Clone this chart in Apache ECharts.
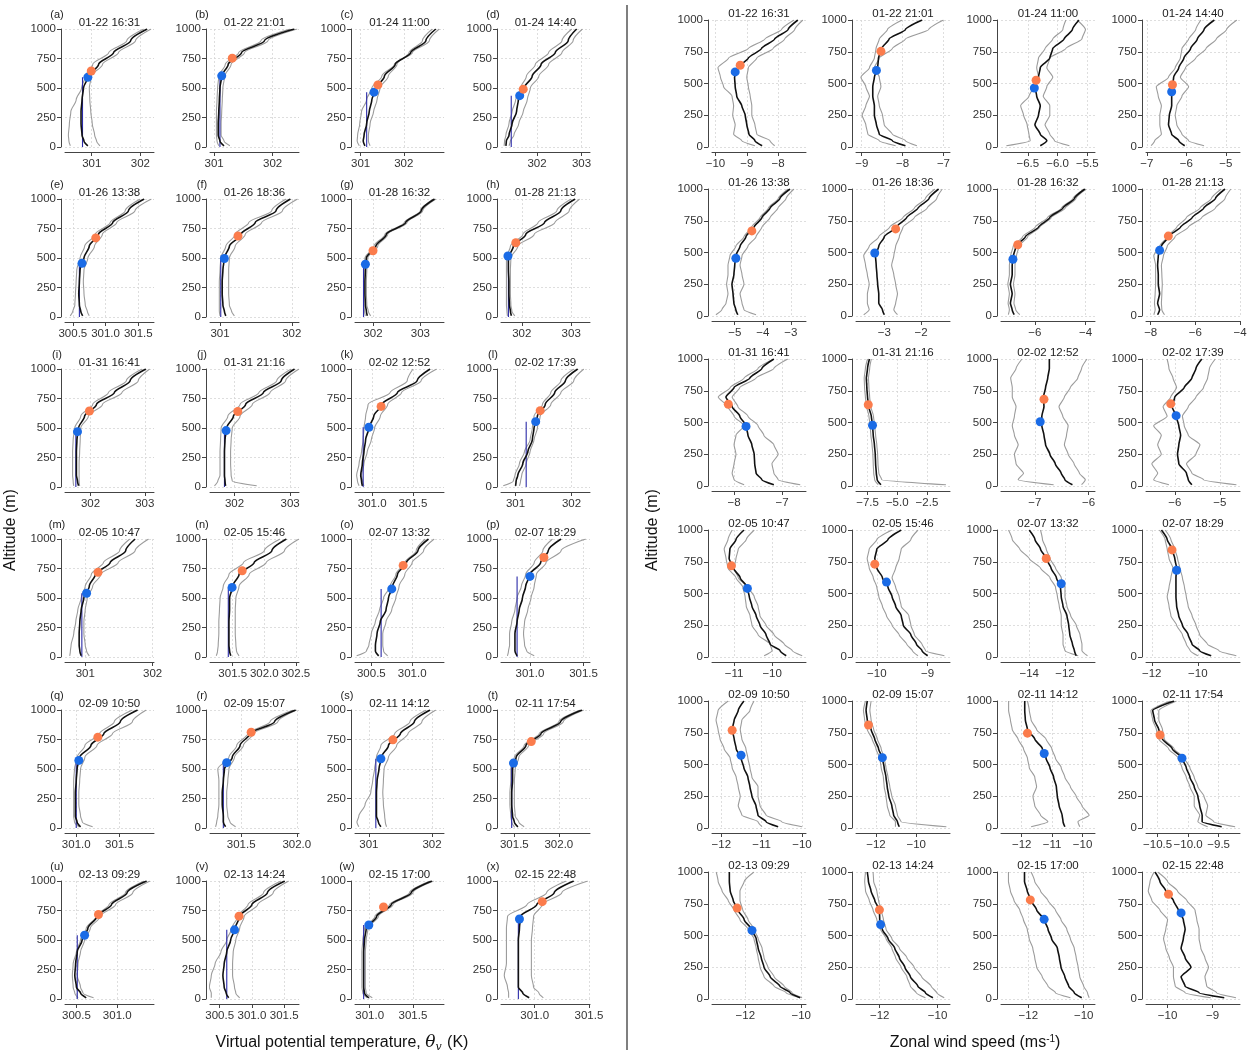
<!DOCTYPE html>
<html><head><meta charset="utf-8">
<script src="https://cdn.jsdelivr.net/npm/echarts@6/dist/echarts.min.js"></script>
<style>html,body{margin:0;padding:0;background:#fff}#c{width:1251px;height:1056px}</style>
</head><body><div id="c"></div><script>
// ---------------- DATA ----------------
const ZT = [10,50,100,200,300,400,500,600,700,800,900,1000];
const ZW = [10,50,100,175,250,325,400,475,550,625,700,775,850,925,1000];
const times = ['01-22 16:31','01-22 21:01','01-24 11:00','01-24 14:40','01-26 13:38','01-26 18:36','01-28 16:32','01-28 21:13',
 '01-31 16:41','01-31 21:16','02-02 12:52','02-02 17:39','02-05 10:47','02-05 15:46','02-07 13:32','02-07 18:29',
 '02-09 10:50','02-09 15:07','02-11 14:12','02-11 17:54','02-13 09:29','02-13 14:24','02-15 17:00','02-15 22:48'];
const letters = ['a','b','c','d','e','f','g','h','i','j','k','l','m','n','o','p','q','r','s','t','u','v','w','x'];
const hBlue = [591,603,465,435,455,496,447,517,469,478,506,554,540,590,577,683,573,554,587,550,540,586,627,678];
const hOrange = [644,753,526,490,670,686,561,629,644,640,683,647,718,731,776,843,770,811,747,732,716,702,780,825];

// Virtual potential temperature (K)
const thMean = [
 [300.92,300.84,300.80,300.78,300.78,300.80,300.83,300.93,301.14,301.45,301.80,302.14],
 [301.17,301.10,301.07,301.07,301.08,301.09,301.10,301.13,301.24,301.47,301.86,302.37],
 [301.10,301.06,301.08,301.14,301.20,301.26,301.37,301.55,301.80,302.16,302.51,302.74],
 [301.30,301.31,301.37,301.44,301.54,301.58,301.71,301.89,302.09,302.41,302.70,302.89],
 [300.65,300.62,300.60,300.59,300.60,300.61,300.67,300.75,300.89,301.11,301.35,301.59],
 [301.08,301.06,301.04,301.03,301.03,301.04,301.06,301.13,301.29,301.49,301.78,301.98],
 [301.88,301.86,301.84,301.83,301.83,301.84,301.86,302.06,302.28,302.69,303.02,303.30],
 [301.79,301.77,301.75,301.74,301.74,301.73,301.73,301.83,302.08,302.46,302.79,303.08],
 [301.78,301.76,301.74,301.74,301.74,301.75,301.78,301.89,302.11,302.44,302.73,303.02],
 [301.84,301.83,301.82,301.82,301.82,301.83,301.86,301.98,302.20,302.52,302.84,303.08],
 [300.88,300.87,300.86,300.88,300.90,300.92,300.96,301.02,301.12,301.31,301.55,301.71],
 [301.00,301.01,301.04,301.13,301.22,301.30,301.33,301.39,301.53,301.70,301.89,302.11],
 [300.94,300.92,300.91,300.91,300.92,300.94,300.98,301.06,301.15,301.37,301.60,301.74],
 [301.47,301.45,301.44,301.44,301.44,301.45,301.45,301.50,301.60,301.84,302.12,302.35],
 [300.59,300.55,300.55,300.57,300.61,300.68,300.71,300.76,300.82,300.93,301.07,301.20],
 [300.88,300.86,300.86,300.86,300.88,300.90,300.93,300.96,301.00,301.10,301.17,301.29],
 [301.05,301.01,300.99,300.99,300.99,301.00,301.01,301.04,301.17,301.32,301.51,301.71],
 [301.36,301.34,301.34,301.33,301.33,301.34,301.35,301.42,301.49,301.58,301.80,301.99],
 [301.19,301.15,301.12,301.12,301.12,301.13,301.16,301.20,301.31,301.50,301.72,301.97],
 [301.54,301.50,301.48,301.47,301.47,301.48,301.48,301.52,301.63,301.80,302.02,302.26],
 [300.62,300.55,300.50,300.48,300.49,300.51,300.57,300.64,300.75,300.93,301.12,301.36],
 [300.64,300.60,300.57,300.55,300.57,300.61,300.67,300.74,300.81,301.00,301.24,301.51],
 [300.99,300.94,300.93,300.93,300.93,300.93,300.94,300.96,301.08,301.25,301.48,301.72],
 [300.95,300.89,300.85,300.85,300.85,300.85,300.85,300.86,300.87,301.02,301.18,301.36]];
const thLo = [
 [300.56,300.53,300.52,300.54,300.57,300.68,300.79,300.87,301.02,301.35,301.72,302.07],
 [301.08,301.05,301.04,301.04,301.04,301.05,301.06,301.08,301.19,301.42,301.80,302.30],
 [300.97,300.92,300.93,300.98,301.02,301.14,301.26,301.49,301.78,302.20,302.59,302.82],
 [301.26,301.27,301.30,301.37,301.44,301.52,301.63,301.76,301.96,302.26,302.56,302.78],
 [300.46,300.50,300.53,300.54,300.55,300.56,300.61,300.68,300.84,301.07,301.30,301.53],
 [301.00,300.99,300.99,300.99,300.99,301.00,301.01,301.08,301.21,301.40,301.72,301.92],
 [301.84,301.82,301.81,301.80,301.80,301.81,301.83,302.02,302.25,302.66,303.00,303.28],
 [301.71,301.70,301.69,301.69,301.69,301.69,301.69,301.77,302.02,302.33,302.71,303.00],
 [301.69,301.68,301.67,301.67,301.67,301.68,301.71,301.82,302.04,302.33,302.66,302.95],
 [301.64,301.70,301.74,301.74,301.74,301.75,301.76,301.88,302.10,302.44,302.76,303.02],
 [300.84,300.82,300.81,300.84,300.87,300.89,300.90,300.92,300.95,301.22,301.43,301.50],
 [300.78,300.96,300.99,301.07,301.16,301.26,301.30,301.33,301.48,301.63,301.81,302.04],
 [300.77,300.78,300.79,300.83,300.86,300.89,300.94,301.00,301.09,301.27,301.51,301.66],
 [301.24,301.26,301.27,301.28,301.28,301.29,301.30,301.35,301.44,301.67,302.00,302.25],
 [300.32,300.44,300.47,300.50,300.55,300.60,300.65,300.73,300.80,300.91,301.05,301.16],
 [300.79,300.80,300.81,300.81,300.83,300.86,300.88,300.92,300.96,301.04,301.12,301.21],
 [301.03,300.98,300.97,300.97,300.97,300.97,300.98,301.01,301.10,301.27,301.44,301.65],
 [301.27,301.28,301.29,301.30,301.30,301.30,301.29,301.39,301.46,301.56,301.76,301.97],
 [300.84,300.81,300.84,300.94,301.03,301.06,301.09,301.12,301.19,301.41,301.65,301.91],
 [301.50,301.47,301.46,301.45,301.45,301.46,301.46,301.50,301.61,301.78,302.00,302.24],
 [300.52,300.48,300.46,300.45,300.46,300.50,300.55,300.62,300.74,300.90,301.10,301.33],
 [300.37,300.37,300.34,300.37,300.43,300.52,300.61,300.69,300.78,300.94,301.18,301.45],
 [300.97,300.92,300.91,300.91,300.91,300.91,300.92,300.94,301.06,301.23,301.46,301.70],
 [300.76,300.76,300.75,300.72,300.74,300.74,300.74,300.74,300.75,300.93,301.11,301.29]];
const thHi = [
 [301.17,301.10,301.06,301.01,300.98,300.96,300.95,300.99,301.22,301.55,301.90,302.22],
 [301.27,301.17,301.12,301.12,301.13,301.14,301.15,301.18,301.29,301.52,301.92,302.42],
 [301.22,301.18,301.18,301.22,301.30,301.38,301.45,301.64,301.84,302.12,302.43,302.66],
 [301.37,301.40,301.48,301.59,301.69,301.78,301.85,302.04,302.26,302.56,302.81,303.02],
 [300.75,300.72,300.69,300.67,300.66,300.67,300.73,300.83,300.95,301.17,301.45,301.70],
 [301.20,301.16,301.13,301.12,301.12,301.12,301.13,301.21,301.35,301.58,301.87,302.08],
 [301.95,301.90,301.87,301.86,301.86,301.87,301.89,302.10,302.31,302.72,303.05,303.33],
 [301.86,301.80,301.78,301.77,301.77,301.77,301.78,301.92,302.25,302.67,302.96,303.17],
 [301.80,301.79,301.79,301.79,301.80,301.81,301.82,301.96,302.22,302.58,302.88,303.09],
 [302.40,301.96,301.94,301.93,301.93,301.94,301.96,302.10,302.32,302.64,302.92,303.16],
 [300.90,300.88,300.87,300.90,300.94,300.99,301.03,301.10,301.19,301.36,301.60,301.79],
 [301.07,301.09,301.11,301.19,301.26,301.33,301.39,301.44,301.63,301.81,302.04,302.22],
 [301.06,301.02,301.00,300.98,300.98,301.00,301.03,301.11,301.23,301.49,301.74,301.94],
 [301.60,301.56,301.55,301.54,301.54,301.54,301.55,301.60,301.76,302.03,302.32,302.55],
 [300.70,300.65,300.64,300.64,300.68,300.75,300.80,300.84,300.91,301.00,301.14,301.27],
 [301.04,300.97,300.95,300.94,300.95,300.98,301.01,301.04,301.06,301.15,301.29,301.52],
 [301.19,301.07,301.05,301.03,301.03,301.04,301.05,301.10,301.24,301.42,301.65,301.81],
 [301.45,301.40,301.38,301.37,301.37,301.38,301.39,301.44,301.52,301.61,301.83,302.00],
 [301.28,301.26,301.25,301.23,301.22,301.23,301.24,301.31,301.44,301.62,301.84,302.06],
 [301.61,301.55,301.51,301.50,301.50,301.50,301.51,301.55,301.66,301.83,302.05,302.28],
 [300.71,300.58,300.55,300.51,300.52,300.55,300.60,300.67,300.79,300.98,301.19,301.40],
 [300.81,300.75,300.73,300.70,300.70,300.71,300.75,300.81,300.88,301.09,301.33,301.57],
 [301.03,300.96,300.95,300.95,300.95,300.95,300.96,300.98,301.10,301.27,301.50,301.74],
 [301.08,301.04,300.99,300.97,300.97,300.97,300.97,300.98,300.99,301.07,301.25,301.49]];
const thML = [300.81,301.10,301.14,301.42,300.60,301.01,301.80,301.73,301.73,301.82,300.89,301.19,
 300.95,301.43,300.62,300.88,301.00,301.34,301.11,301.47,300.51,300.61,300.93,300.85];
const thBlueX = [300.92,301.13,301.31,301.61,300.64,301.06,301.84,301.72,301.76,301.85,300.96,301.36,
 301.02,301.49,300.75,301.00,301.03,301.37,301.19,301.49,300.60,300.73,300.99,300.86];
const thOrangeX = [300.99,301.31,301.40,301.69,300.85,301.25,302.00,301.88,301.98,302.06,301.11,301.44,
 301.19,301.65,300.89,301.13,301.25,301.59,301.38,301.69,300.77,300.80,301.16,301.07];
const thXMin = [300.45,300.93,300.87,301.19,300.38,300.86,301.62,301.58,301.53,301.56,300.79,300.74,
 300.70,301.14,300.30,300.73,300.87,301.22,300.78,301.35,300.36,300.35,300.83,300.69];
const thXMax = [302.28,302.45,302.93,303.19,301.74,302.10,303.50,303.38,303.17,303.16,301.88,302.33,
 302.02,302.55,301.39,301.56,301.90,302.02,302.19,302.35,301.45,301.73,301.86,301.51];
const thTicks = [['301','302'],['301','302'],['301','302'],['302','303'],['300.5','301.0','301.5'],['301','302'],
 ['302','303'],['302','303'],['302','303'],['302','303'],['301.0','301.5'],['301','302'],
 ['301','302'],['301.5','302.0','302.5'],['300.5','301.0'],['301.0','301.5'],['301.0','301.5'],['301.5','302.0'],
 ['301','302'],['301.5','302.0'],['300.5','301.0'],['300.5','301.0','301.5'],['301.0','301.5'],['301.0','301.5']];

// Zonal wind speed (m/s)
const uMean = [
 [-8.51,-8.74,-8.93,-9.00,-9.05,-9.16,-9.32,-9.37,-9.39,-9.28,-8.95,-8.53,-8.11,-7.68,-7.37],
 [-7.93,-8.25,-8.57,-8.64,-8.69,-8.69,-8.73,-8.73,-8.69,-8.61,-8.59,-8.51,-8.33,-7.93,-7.52],
 [-6.29,-6.18,-6.29,-6.38,-6.32,-6.29,-6.35,-6.38,-6.32,-6.29,-6.13,-6.08,-5.89,-5.75,-5.64],
 [-6.04,-6.19,-6.37,-6.45,-6.43,-6.37,-6.37,-6.35,-6.32,-6.19,-6.06,-5.89,-5.72,-5.55,-5.29],
 [-4.89,-4.96,-5.03,-5.06,-5.10,-5.03,-5.00,-4.96,-4.81,-4.60,-4.31,-4.03,-3.74,-3.39,-3.03],
 [-3.00,-3.05,-3.15,-3.15,-3.18,-3.20,-3.22,-3.24,-3.15,-3.00,-2.67,-2.39,-2.08,-1.78,-1.52],
 [-6.81,-6.89,-6.96,-6.89,-6.96,-6.89,-6.89,-6.84,-6.74,-6.37,-5.85,-5.41,-4.89,-4.44,-4.03],
 [-7.69,-7.60,-7.69,-7.60,-7.66,-7.66,-7.69,-7.66,-7.52,-7.21,-6.66,-6.14,-5.62,-5.10,-4.67],
 [-7.17,-7.42,-7.54,-7.57,-7.58,-7.63,-7.71,-7.75,-7.88,-8.04,-8.17,-8.00,-7.67,-7.42,-7.17],
 [-6.37,-6.69,-6.76,-6.82,-6.85,-6.92,-7.02,-7.08,-7.18,-7.40,-7.50,-7.56,-7.60,-7.50,-7.34],
 [-6.30,-6.44,-6.51,-6.62,-6.72,-6.80,-6.83,-6.87,-6.87,-6.83,-6.84,-6.80,-6.76,-6.73,-6.73],
 [-5.62,-5.70,-5.74,-5.91,-5.94,-5.91,-5.87,-5.91,-5.97,-6.06,-6.00,-5.79,-5.62,-5.53,-5.40],
 [-9.63,-9.79,-10.05,-10.16,-10.32,-10.42,-10.53,-10.60,-10.66,-10.84,-11.02,-11.13,-11.11,-10.95,-10.74],
 [-9.00,-9.11,-9.22,-9.33,-9.48,-9.52,-9.63,-9.70,-9.78,-9.89,-10.00,-10.04,-10.00,-9.78,-9.52],
 [-11.37,-11.47,-11.58,-11.73,-11.79,-11.89,-12.11,-12.21,-12.25,-12.48,-12.78,-13.05,-13.37,-13.68,-14.00],
 [-9.42,-9.92,-10.25,-10.42,-10.67,-10.83,-10.92,-10.95,-10.95,-10.95,-10.92,-11.00,-11.12,-11.33,-11.58],
 [-10.59,-10.89,-11.09,-11.14,-11.24,-11.29,-11.34,-11.44,-11.51,-11.63,-11.68,-11.73,-11.68,-11.58,-11.44],
 [-10.84,-10.93,-11.12,-11.21,-11.36,-11.44,-11.50,-11.59,-11.68,-11.87,-12.06,-12.24,-12.43,-12.49,-12.43],
 [-10.58,-10.64,-10.67,-10.77,-10.83,-10.86,-10.95,-11.07,-11.20,-11.32,-11.57,-11.81,-11.88,-11.90,-11.90],
 [-9.45,-9.77,-9.77,-9.81,-9.84,-9.90,-9.97,-10.03,-10.10,-10.26,-10.42,-10.48,-10.55,-10.58,-10.23],
 [-10.04,-10.40,-10.76,-11.11,-11.33,-11.43,-11.54,-11.61,-11.79,-12.04,-12.26,-12.43,-12.54,-12.57,-12.57],
 [-10.16,-10.42,-10.68,-10.94,-11.13,-11.32,-11.48,-11.71,-11.91,-12.00,-12.01,-12.17,-12.30,-12.39,-12.43],
 [-10.07,-10.34,-10.54,-10.68,-10.82,-10.88,-10.95,-11.16,-11.29,-11.43,-11.70,-11.90,-12.04,-12.14,-12.14],
 [-8.74,-9.30,-9.61,-9.70,-9.48,-9.61,-9.70,-9.65,-9.61,-9.65,-9.76,-9.87,-10.04,-10.17,-10.28]];
const uLo = [
 [-8.74,-9.16,-9.42,-9.37,-9.45,-9.42,-9.47,-9.74,-9.84,-9.92,-9.58,-8.95,-8.42,-7.89,-7.49],
 [-8.17,-8.57,-8.85,-8.90,-8.99,-8.90,-8.81,-8.90,-9.02,-8.81,-8.69,-8.65,-8.57,-8.37,-8.01],
 [-6.86,-6.46,-6.48,-6.51,-6.57,-6.62,-6.48,-6.40,-6.32,-6.35,-6.32,-6.21,-6.08,-5.91,-5.86],
 [-6.89,-6.80,-6.63,-6.67,-6.67,-6.63,-6.71,-6.76,-6.45,-6.28,-6.15,-6.11,-5.94,-5.76,-5.63],
 [-5.67,-5.46,-5.31,-5.24,-5.29,-5.24,-5.24,-5.17,-4.96,-4.67,-4.40,-4.10,-3.80,-3.45,-3.10],
 [-3.56,-3.41,-3.46,-3.46,-3.41,-3.46,-3.51,-3.56,-3.41,-3.15,-2.85,-2.49,-2.18,-1.88,-1.62],
 [-7.04,-7.00,-7.05,-7.00,-7.06,-7.00,-7.00,-6.95,-6.85,-6.48,-5.98,-5.50,-4.95,-4.50,-4.05],
 [-7.86,-7.80,-7.83,-7.80,-7.78,-7.78,-7.78,-7.86,-7.60,-7.26,-6.83,-6.40,-5.79,-5.28,-4.84],
 [-7.79,-8.00,-8.04,-8.00,-7.96,-8.00,-7.96,-7.79,-8.00,-8.13,-8.33,-8.08,-7.79,-7.50,-7.17],
 [-6.60,-6.90,-6.98,-7.02,-7.05,-7.12,-7.22,-7.28,-7.38,-7.58,-7.68,-7.75,-7.78,-7.68,-7.50],
 [-6.65,-7.31,-7.21,-7.35,-7.38,-7.31,-7.38,-7.42,-7.38,-7.35,-7.42,-7.42,-7.45,-7.35,-7.24],
 [-6.13,-6.47,-6.38,-6.51,-6.30,-6.38,-6.30,-6.47,-6.17,-6.26,-6.09,-5.96,-6.04,-6.13,-6.17],
 [-10.21,-10.00,-10.05,-10.37,-10.53,-10.58,-10.68,-10.71,-10.77,-10.95,-11.16,-11.21,-11.26,-11.16,-11.05],
 [-9.19,-9.30,-9.41,-9.56,-9.70,-9.81,-9.89,-9.96,-10.00,-10.07,-10.15,-10.19,-10.15,-10.00,-9.70],
 [-11.26,-12.00,-12.11,-12.11,-12.21,-12.21,-12.32,-12.42,-12.53,-12.84,-13.37,-14.00,-14.53,-14.95,-15.16],
 [-10.00,-10.33,-10.50,-10.67,-10.92,-11.17,-11.25,-11.33,-11.25,-11.17,-11.08,-11.25,-11.33,-11.42,-11.67],
 [-10.99,-11.09,-11.49,-11.58,-11.53,-11.58,-11.63,-11.73,-11.78,-11.93,-12.03,-12.08,-12.13,-12.08,-11.83],
 [-11.03,-11.03,-11.31,-11.44,-11.50,-11.59,-11.63,-11.74,-11.81,-12.00,-12.19,-12.43,-12.56,-12.62,-12.52],
 [-11.69,-11.14,-11.38,-11.57,-11.63,-11.51,-11.57,-11.75,-11.81,-11.94,-12.12,-12.31,-12.37,-12.43,-12.43],
 [-9.68,-9.84,-9.81,-9.90,-9.90,-9.97,-10.03,-10.10,-10.16,-10.32,-10.48,-10.52,-10.58,-10.61,-10.29],
 [-10.04,-10.54,-10.97,-11.33,-11.47,-11.54,-11.61,-11.69,-11.90,-12.19,-12.40,-12.61,-12.83,-12.97,-13.04],
 [-10.42,-10.74,-10.94,-11.06,-11.26,-11.45,-11.58,-11.78,-11.97,-12.10,-12.23,-12.36,-12.49,-12.52,-12.49],
 [-10.48,-11.02,-11.29,-11.50,-11.70,-11.77,-11.84,-11.97,-12.04,-12.18,-12.31,-12.52,-12.65,-12.72,-12.72],
 [-9.04,-9.61,-9.83,-9.87,-9.87,-9.96,-10.04,-10.09,-10.04,-10.00,-10.17,-10.35,-10.43,-10.39,-10.30]];
const uHi = [
 [-8.11,-8.26,-8.68,-8.74,-8.84,-8.84,-8.89,-8.95,-9.00,-8.95,-8.68,-8.16,-7.79,-7.47,-7.21],
 [-7.65,-7.93,-8.25,-8.45,-8.49,-8.57,-8.61,-8.53,-8.57,-8.69,-8.57,-8.25,-7.93,-7.36,-7.00],
 [-5.80,-6.05,-6.13,-6.21,-6.13,-6.13,-6.24,-6.18,-6.08,-6.18,-6.13,-5.86,-5.59,-5.53,-5.67],
 [-5.55,-5.94,-6.11,-6.24,-6.28,-6.24,-6.11,-5.94,-6.15,-6.02,-5.76,-5.50,-5.24,-4.98,-4.72],
 [-4.24,-4.67,-4.74,-4.81,-4.67,-4.74,-4.81,-4.74,-4.53,-4.24,-4.03,-3.74,-3.46,-3.17,-2.89],
 [-2.64,-2.74,-2.69,-2.64,-2.69,-2.74,-2.80,-2.74,-2.69,-2.59,-2.49,-2.18,-1.83,-1.57,-1.42],
 [-6.59,-6.75,-6.82,-6.78,-6.84,-6.78,-6.78,-6.72,-6.62,-6.28,-5.80,-5.35,-4.80,-4.38,-3.98],
 [-7.38,-7.50,-7.52,-7.50,-7.48,-7.50,-7.52,-7.43,-7.26,-6.91,-6.31,-5.71,-5.10,-4.67,-4.41],
 [-6.62,-7.08,-7.17,-7.21,-7.08,-7.17,-7.38,-7.50,-7.71,-7.92,-8.04,-7.88,-7.54,-7.17,-6.88],
 [-0.90,-6.30,-6.55,-6.62,-6.65,-6.72,-6.82,-6.90,-7.00,-7.22,-7.32,-7.38,-7.42,-7.32,-7.18],
 [-6.13,-6.06,-6.17,-6.27,-6.38,-6.45,-6.41,-6.38,-6.48,-6.55,-6.45,-6.34,-6.20,-6.13,-6.03],
 [-4.63,-5.36,-5.62,-5.74,-5.53,-5.44,-5.70,-5.79,-5.83,-5.70,-5.53,-5.36,-5.27,-5.23,-5.10],
 [-9.21,-9.47,-9.68,-9.95,-10.16,-10.32,-10.37,-10.47,-10.63,-10.89,-11.00,-10.95,-10.89,-10.68,-10.47],
 [-8.67,-9.04,-9.11,-9.26,-9.33,-9.37,-9.52,-9.56,-9.63,-9.70,-9.63,-9.56,-9.52,-9.33,-9.19],
 [-10.74,-11.05,-11.05,-11.16,-11.37,-11.68,-11.89,-12.00,-12.00,-12.21,-12.53,-12.84,-13.05,-13.26,-13.37],
 [-8.33,-9.08,-9.58,-9.92,-10.08,-10.25,-10.42,-10.50,-10.58,-10.67,-10.78,-10.88,-11.00,-11.17,-11.42],
 [-10.00,-10.50,-10.89,-11.04,-11.09,-11.09,-11.24,-11.29,-11.34,-11.39,-11.49,-11.53,-11.49,-11.29,-11.19],
 [-8.50,-10.75,-10.93,-11.03,-11.21,-11.31,-11.40,-11.50,-11.59,-11.74,-11.93,-12.11,-12.24,-12.30,-12.24],
 [-10.09,-10.15,-9.78,-10.02,-10.21,-10.40,-10.58,-10.70,-10.89,-11.01,-11.20,-11.51,-11.69,-11.75,-11.81],
 [-9.23,-9.58,-9.71,-9.68,-9.74,-9.84,-9.90,-9.97,-10.06,-10.23,-10.39,-10.42,-10.48,-10.48,-10.19],
 [-9.97,-10.33,-10.61,-10.97,-11.19,-11.33,-11.40,-11.54,-11.69,-11.90,-12.09,-12.19,-12.19,-12.04,-11.69],
 [-9.77,-10.03,-10.22,-10.55,-10.81,-11.06,-11.32,-11.58,-11.78,-11.87,-11.95,-12.04,-12.10,-12.21,-12.23],
 [-9.80,-9.86,-10.00,-10.14,-10.20,-10.27,-10.34,-10.48,-10.61,-10.82,-11.02,-11.29,-11.56,-11.77,-11.90],
 [-8.48,-8.91,-9.13,-9.17,-9.09,-9.17,-9.26,-9.30,-9.30,-9.35,-9.39,-9.57,-9.78,-10.00,-10.22]];
const uBlueX = [-9.37,-8.64,-6.39,-6.37,-4.96,-3.26,-6.86,-7.60,-7.75,-7.08,-6.90,-5.97,
 -10.65,-9.81,-12.21,-10.92,-11.51,-11.68,-11.26,-10.10,-11.76,-11.97,-11.43,-9.70];
const uOrangeX = [-9.21,-8.53,-6.36,-6.35,-4.39,-2.69,-6.67,-7.21,-8.12,-7.44,-6.83,-6.09,
 -11.07,-10.04,-13.05,-11.12,-11.73,-12.37,-11.81,-10.46,-12.29,-12.01,-11.93,-9.98];
const uXMin = [-10.11,-9.14,-6.95,-7.02,-5.81,-3.77,-7.33,-8.21,-8.46,-8.47,-7.63,-6.64,
 -11.58,-10.41,-15.58,-12.25,-12.23,-12.99,-12.68,-10.69,-13.19,-12.82,-12.99,-10.48];
const uXMax = [-7.11,-6.84,-5.37,-4.64,-2.46,-1.21,-3.63,-4.00,-6.50,-0.56,-5.88,-4.55,
 -9.11,-8.56,-10.32,-8.17,-9.90,-8.32,-9.59,-9.15,-9.83,-9.57,-9.59,-8.39];
const uTicks = [['-10','-9','-8'],['-9','-8','-7'],['-6.5','-6.0','-5.5'],['-7','-6','-5'],['-5','-4','-3'],['-3','-2'],
 ['-6','-4'],['-8','-6','-4'],['-8','-7'],['-7.5','-5.0','-2.5'],['-7','-6'],['-6','-5'],
 ['-11','-10'],['-10','-9'],['-14','-12'],['-12','-10'],['-12','-11','-10'],['-12','-10'],
 ['-12','-11','-10'],['-10.5','-10.0','-9.5'],['-12','-10'],['-12','-10'],['-12','-10'],['-10','-9']];
const yTicks = ['0','250','500','750','1000'];

// ---------------- LAYOUT / STYLE ----------------
const FONT = 'Liberation Sans, Arial, Helvetica, sans-serif';
const LCOL = [65, 210, 355, 501], LW = 89;
const RCOL = [712, 856, 1001, 1146], RW = 94;
const LTOP = [29, 199, 369, 539, 710, 881], LH = 118;
const RTOP = [20, 189, 359, 530, 701, 872], RH = 127;
const C_MEAN = '#111111', C_GREY = '#9c9c9c', C_ML = '#2a2aa8', C_BLUE = '#1a6be6', C_ORANGE = '#fb7c4c';
const AX = '#444', GRIDC = '#d6d6d6', TICKFS = 11.5;

const grids = [], xAxes = [], yAxes = [], series = [], graphics = [];

function labeler(ticks) {
  return v => {
    let best = ticks[0], d = 1e9;
    ticks.forEach(t => { const dd = Math.abs(Number(t) - v); if (dd < d) { d = dd; best = t; } });
    return best.replace('-', '\u2212');
  };
}
function addPanel(left, top, w, h, xmin, xmax, ticks) {
  const idx = grids.length;
  grids.push({left: left, top: top, width: w, height: h, containLabel: false});
  const vals = ticks.map(Number), yv = yTicks.map(Number);
  xAxes.push({type: 'value', gridIndex: idx, min: xmin, max: xmax, offset: 5,
    axisLine: {show: true, onZero: false, lineStyle: {color: AX, width: 1}},
    axisTick: {show: true, length: 4, customValues: vals, lineStyle: {color: AX}},
    axisLabel: {show: true, customValues: vals, formatter: labeler(ticks), fontSize: TICKFS, color: '#333', margin: 6, fontFamily: FONT},
    splitLine: {show: true, lineStyle: {color: GRIDC, type: [2, 2], width: 0.8}}});
  yAxes.push({type: 'value', gridIndex: idx, min: 0, max: 1000, offset: 4,
    axisLine: {show: true, onZero: false, lineStyle: {color: AX, width: 1}},
    axisTick: {show: true, length: 4, customValues: yv, lineStyle: {color: AX}},
    axisLabel: {show: true, customValues: yv, formatter: labeler(yTicks), fontSize: TICKFS, color: '#333', margin: 5, fontFamily: FONT},
    splitLine: {show: true, lineStyle: {color: GRIDC, type: [2, 2], width: 0.8}}});
  return idx;
}
function line(idx, xs, zs, color, width, z, smooth) {
  series.push({type: 'line', xAxisIndex: idx, yAxisIndex: idx, data: xs.map((x, i) => [x, zs[i]]),
    symbol: 'none', showSymbol: false, silent: true, z: z, smooth: smooth, smoothMonotone: 'y',
    lineStyle: {color: color, width: width}, emphasis: {disabled: true}});
}
function dot(idx, x, y, color) {
  series.push({type: 'scatter', xAxisIndex: idx, yAxisIndex: idx, data: [[x, y]], symbolSize: 9, z: 10, silent: true,
    itemStyle: {color: color, opacity: 1}});
}
function txt(x, y, s, size, align) {
  graphics.push({type: 'text', x: x, y: y, silent: true,
    style: {text: s, fill: '#222', font: size + 'px ' + FONT, textAlign: align || 'center', textVerticalAlign: 'middle',
      align: align || 'center', verticalAlign: 'middle'}});
}

for (let p = 0; p < 24; p++) {
  const r = Math.floor(p / 4), c = p % 4;
  // theta panel
  const L = LCOL[c], T = LTOP[r];
  const i1 = addPanel(L, T, LW, LH, thXMin[p], thXMax[p], thTicks[p]);
  line(i1, thLo[p], ZT, C_GREY, 1.1, 2, 0.3);
  line(i1, thHi[p], ZT, C_GREY, 1.1, 2, 0.3);
  line(i1, [thML[p], thML[p]], [0, hBlue[p]], C_ML, 1.1, 3, false);
  line(i1, thMean[p], ZT, C_MEAN, 1.6, 4, 0.3);
  dot(i1, thBlueX[p], hBlue[p], C_BLUE);
  dot(i1, thOrangeX[p], hOrange[p], C_ORANGE);
  txt(L + LW / 2, T - 6.5, times[p], 11.5);
  txt(L - 8, T - 14.5, '(' + letters[p] + ')', 11);
  // wind panel
  const L2 = RCOL[c], T2 = RTOP[r];
  const i2 = addPanel(L2, T2, RW, RH, uXMin[p], uXMax[p], uTicks[p]);
  line(i2, uLo[p], ZW, C_GREY, 1.1, 2, 0.2);
  line(i2, uHi[p], ZW, C_GREY, 1.1, 2, 0.2);
  line(i2, uMean[p], ZW, C_MEAN, 1.6, 4, 0.2);
  dot(i2, uBlueX[p], hBlue[p], C_BLUE);
  dot(i2, uOrangeX[p], hOrange[p], C_ORANGE);
  txt(L2 + RW / 2, T2 - 6.5, times[p], 11.5);
}

// divider and axis titles
graphics.push({type: 'line', silent: true, shape: {x1: 627, y1: 5, x2: 627, y2: 1050}, style: {stroke: '#555', lineWidth: 1.5}});
graphics.push({type: 'text', x: 11, y: 530, rotation: Math.PI / 2, silent: true,
  style: {text: 'Altitude (m)', fill: '#111', font: '16px ' + FONT, textAlign: 'center', textVerticalAlign: 'middle', align: 'center', verticalAlign: 'middle'}});
graphics.push({type: 'text', x: 653, y: 530, rotation: Math.PI / 2, silent: true,
  style: {text: 'Altitude (m)', fill: '#111', font: '16px ' + FONT, textAlign: 'center', textVerticalAlign: 'middle', align: 'center', verticalAlign: 'middle'}});
graphics.push({type: 'text', x: 342, y: 1043, silent: true,
  style: {text: 'Virtual potential temperature, {i|θ}{s|v} (K)', fill: '#111', font: '16px ' + FONT,
    textAlign: 'center', textVerticalAlign: 'middle', align: 'center', verticalAlign: 'middle',
    rich: {i: {fontStyle: 'italic', fontSize: 17, fontFamily: 'DejaVu Serif', fill: '#111'},
           s: {fontStyle: 'italic', fontSize: 11, fontFamily: 'DejaVu Serif', fill: '#111', verticalAlign: 'bottom', padding: [8, 1, 0, 0]}}}});
graphics.push({type: 'text', x: 975, y: 1043, silent: true,
  style: {text: 'Zonal wind speed (ms{p|-1})', fill: '#111', font: '16px ' + FONT,
    textAlign: 'center', textVerticalAlign: 'middle', align: 'center', verticalAlign: 'middle',
    rich: {p: {fontSize: 10, fill: '#111', verticalAlign: 'top', padding: [0, 0, 7, 0], fontFamily: FONT}}}});

const chart = echarts.init(document.getElementById('c'), null, {renderer: 'canvas'});
chart.setOption({
  animation: false,
  backgroundColor: '#ffffff',
  textStyle: {fontFamily: FONT},
  grid: grids, xAxis: xAxes, yAxis: yAxes, series: series, graphic: graphics
});
</script></body></html>
